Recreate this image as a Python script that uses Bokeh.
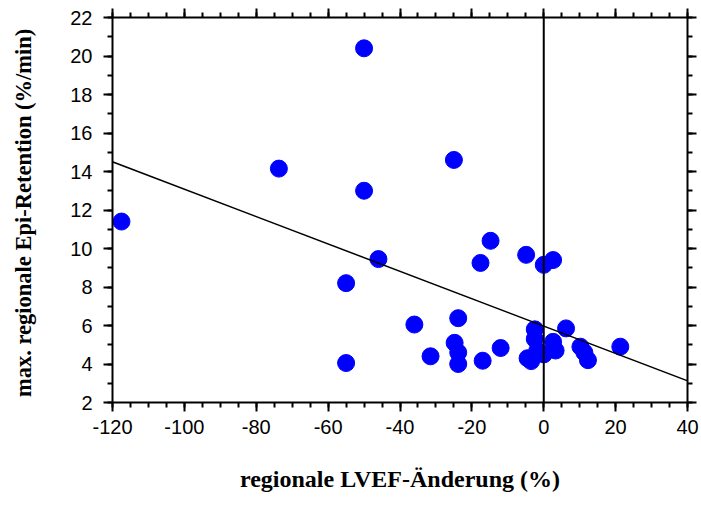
from bokeh.plotting import figure
from bokeh.models import (LinearAxis, FixedTicker, Range1d, Span, Slope,
                          CustomJSTickFormatter, CustomLabelingPolicy)
from bokeh.embed import file_html
from bokeh.resources import INLINE

# data
lvef_change = [-117.5, -73.7, -50.0, -50.0, -55.0, -55.0, -46.0, -36.0, -31.5, -25.0,
               -24.8, -23.8, -23.8, -23.8, -17.6, -17.0, -14.8, -12.0, -4.9, -4.5,
               -3.5, -2.5, -2.5, -1.8, 0.0, 0.0, 2.6, 2.6, 3.3, 6.2,
               10.2, 11.3, 12.3, 21.3]
epi_retention = [11.4, 14.15, 20.4, 13.0, 8.2, 4.05, 9.45, 6.05, 4.4, 14.6,
                 5.1, 6.38, 4.6, 4.0, 9.25, 4.17, 10.4, 4.83, 9.67, 4.3,
                 4.15, 5.8, 5.3, 4.7, 9.15, 4.5, 9.4, 5.15, 4.7, 5.85,
                 4.9, 4.6, 4.2, 4.9]
reg_intercept = 5.97
reg_slope = -0.0711

x_major = [-120, -100, -80, -60, -40, -20, 0, 20, 40]
x_minor = list(range(-120, 41, 5))
y_major = [2, 4, 6, 8, 10, 12, 14, 16, 18, 20, 22]
y_minor = list(range(2, 23, 1))
x_title = "regionale LVEF-Änderung (%)"
y_title = "max.  regionale Epi-Retention (%/min)"

p = figure(width=701, height=506, output_backend="svg", toolbar_location=None,
           x_range=Range1d(-120, 40), y_range=Range1d(2, 22),
           min_border_left=112, min_border_right=14, min_border_top=17, min_border_bottom=104)
p.outline_line_color = None
p.xgrid.visible = False
p.ygrid.visible = False
p.background_fill_color = "white"
p.border_fill_color = "white"

xt = FixedTicker(ticks=x_major, minor_ticks=x_minor)
yt = FixedTicker(ticks=y_major, minor_ticks=y_minor)
fmt = CustomJSTickFormatter(code="return tick.toFixed(0)")
hide_all = CustomLabelingPolicy(code="""
    for (const i of indices) { indices.unset(i) }
    return indices
""")

def style(ax, labels=True):
    ax.axis_line_width = 2
    ax.axis_line_color = "black"
    ax.major_tick_line_width = 2
    ax.minor_tick_line_width = 2
    ax.major_tick_in = 0
    ax.major_tick_out = 9
    ax.minor_tick_in = 0
    ax.minor_tick_out = 5
    if labels:
        ax.formatter = fmt
        ax.major_label_text_font = "Liberation Sans"
        ax.major_label_text_font_size = "20px"
        ax.major_label_text_color = "black"
        ax.axis_label_text_font = "Liberation Serif"
        ax.axis_label_text_font_style = "bold"
        ax.axis_label_text_color = "black"
    else:
        ax.major_label_policy = hide_all
        ax.major_label_text_font_size = "0px"
        ax.major_label_standoff = 0

xa = p.xaxis[0]
xa.ticker = xt
style(xa)
xa.major_label_standoff = 8
xa.axis_label = x_title
xa.axis_label_text_font_size = "24px"
xa.axis_label_standoff = 29

ya = p.yaxis[0]
ya.ticker = yt
style(ya)
ya.major_label_standoff = 11
ya.axis_label = y_title
ya.axis_label_text_font_size = "22.5px"
ya.axis_label_standoff = 31

top = LinearAxis(ticker=xt)
style(top, labels=False)
p.add_layout(top, "above")
right = LinearAxis(ticker=yt)
style(right, labels=False)
p.add_layout(right, "right")

p.add_layout(Span(location=0, dimension="height", line_color="black", line_width=2))
p.add_layout(Slope(gradient=reg_slope, y_intercept=reg_intercept, line_color="black", line_width=1.5))

p.scatter(lvef_change, epi_retention, size=17, fill_color="#0000FF", line_color="#0000FF")

open("out.html", "w").write(file_html(p, INLINE))
